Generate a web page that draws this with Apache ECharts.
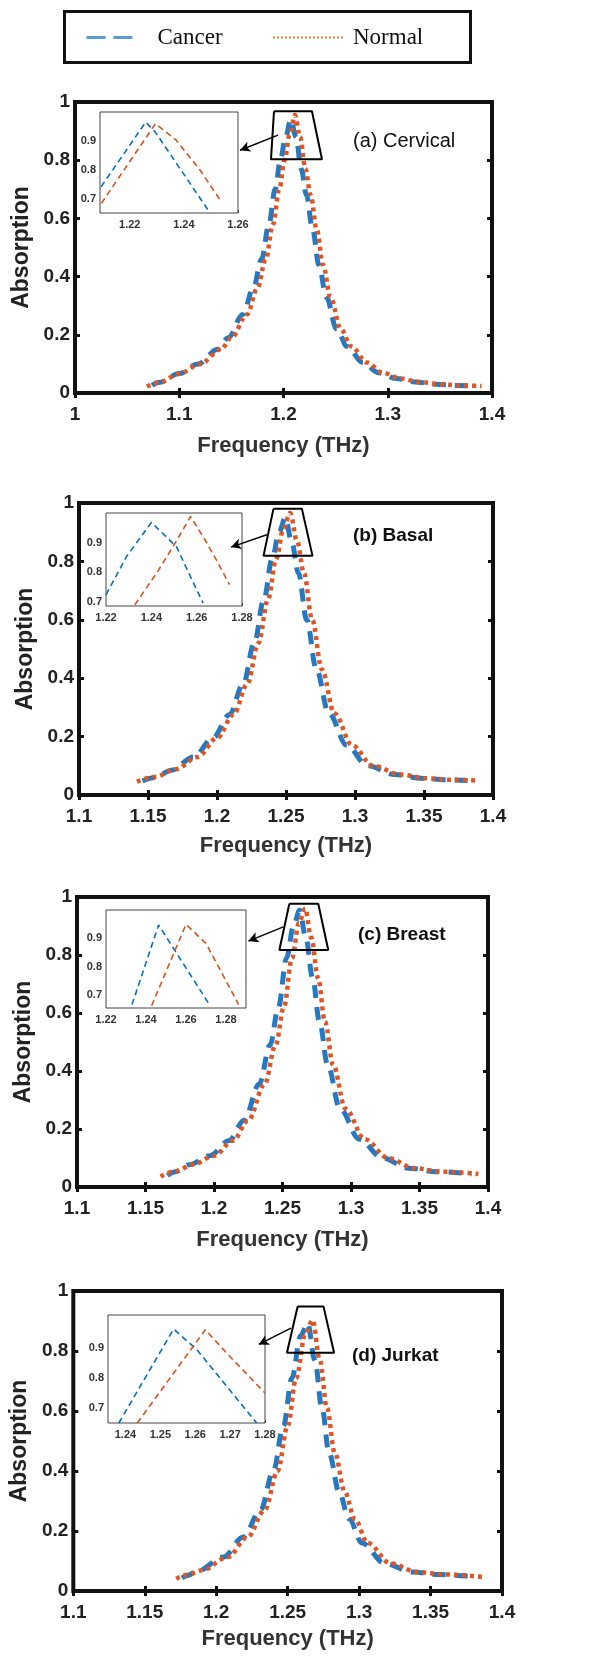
<!DOCTYPE html>
<html><head><meta charset="utf-8">
<script src="https://cdn.jsdelivr.net/npm/echarts@6/dist/echarts.min.js"></script>
<style>html,body{margin:0;padding:0;background:#fff}#c{width:600px;height:1660px}</style>
</head><body><div id="c"></div>
<script>
// ---------- data ----------
const panelLabels = ['(a) Cervical', '(b) Basal', '(c) Breast', '(d) Jurkat'];
const seriesNames = ['Cancer', 'Normal'];
const xMin = [1, 1.1, 1.1, 1.1];
const xMax = [1.4, 1.4, 1.4, 1.4];
const xStep = [0.1, 0.05, 0.05, 0.05];
const yTicks = [0, 0.2, 0.4, 0.6, 0.8, 1];

// (a) Cervical
const freqCancerA = [1.074, 1.080, 1.100, 1.118, 1.137, 1.147, 1.161, 1.171, 1.179, 1.186, 1.192, 1.197, 1.202, 1.207, 1.212, 1.217, 1.222, 1.228, 1.234, 1.241, 1.251, 1.261, 1.276, 1.291, 1.308, 1.326, 1.346, 1.366, 1.385];
const absCancerA  = [0.026, 0.036, 0.067, 0.100, 0.150, 0.190, 0.270, 0.360, 0.460, 0.580, 0.700, 0.800, 0.880, 0.940, 0.880, 0.770, 0.680, 0.560, 0.440, 0.330, 0.220, 0.160, 0.105, 0.070, 0.050, 0.038, 0.030, 0.026, 0.024];
const freqNormalA = [1.069, 1.080, 1.100, 1.120, 1.140, 1.150, 1.165, 1.175, 1.183, 1.190, 1.196, 1.201, 1.206, 1.211, 1.216, 1.221, 1.226, 1.232, 1.238, 1.245, 1.255, 1.265, 1.280, 1.295, 1.312, 1.330, 1.350, 1.370, 1.390];
const absNormalA  = [0.022, 0.035, 0.066, 0.100, 0.150, 0.190, 0.270, 0.360, 0.460, 0.580, 0.700, 0.800, 0.890, 0.955, 0.880, 0.770, 0.680, 0.560, 0.440, 0.330, 0.220, 0.160, 0.105, 0.070, 0.050, 0.038, 0.030, 0.026, 0.024];
// (b) Basal
const freqCancerB = [1.146, 1.155, 1.167, 1.183, 1.197, 1.209, 1.219, 1.227, 1.234, 1.240, 1.245, 1.2495, 1.254, 1.259, 1.265, 1.272, 1.281, 1.294, 1.309, 1.329, 1.348, 1.366, 1.385];
const absCancerB  = [0.048, 0.060, 0.085, 0.130, 0.195, 0.275, 0.380, 0.520, 0.670, 0.810, 0.900, 0.949, 0.870, 0.760, 0.600, 0.430, 0.280, 0.170, 0.100, 0.070, 0.057, 0.052, 0.049];
const freqNormalB = [1.142, 1.155, 1.170, 1.186, 1.200, 1.212, 1.222, 1.230, 1.237, 1.243, 1.248, 1.253, 1.258, 1.263, 1.269, 1.276, 1.285, 1.298, 1.313, 1.333, 1.352, 1.370, 1.390];
const absNormalB  = [0.046, 0.062, 0.088, 0.130, 0.195, 0.275, 0.380, 0.520, 0.670, 0.810, 0.910, 0.966, 0.870, 0.760, 0.600, 0.430, 0.280, 0.170, 0.100, 0.070, 0.057, 0.052, 0.049];
// (c) Breast
const freqCancerC = [1.166, 1.172, 1.182, 1.197, 1.211, 1.222, 1.233, 1.241, 1.247, 1.253, 1.258, 1.2625, 1.267, 1.272, 1.277, 1.283, 1.292, 1.306, 1.323, 1.342, 1.362, 1.388];
const absCancerC  = [0.040, 0.053, 0.077, 0.108, 0.160, 0.230, 0.355, 0.490, 0.620, 0.790, 0.900, 0.954, 0.860, 0.720, 0.570, 0.420, 0.270, 0.165, 0.100, 0.065, 0.053, 0.045];
const freqNormalC = [1.161, 1.172, 1.185, 1.200, 1.214, 1.225, 1.237, 1.245, 1.251, 1.257, 1.262, 1.2665, 1.271, 1.276, 1.281, 1.287, 1.296, 1.310, 1.327, 1.346, 1.366, 1.393];
const absNormalC  = [0.036, 0.055, 0.078, 0.108, 0.160, 0.230, 0.355, 0.490, 0.620, 0.790, 0.910, 0.960, 0.860, 0.720, 0.570, 0.420, 0.270, 0.165, 0.100, 0.065, 0.053, 0.045];
// (d) Jurkat
const freqCancerD = [1.176, 1.180, 1.187, 1.205, 1.219, 1.231, 1.240, 1.247, 1.253, 1.259, 1.264, 1.269, 1.274, 1.279, 1.286, 1.293, 1.302, 1.318, 1.337, 1.356, 1.382];
const absCancerD  = [0.044, 0.052, 0.067, 0.113, 0.180, 0.270, 0.400, 0.550, 0.710, 0.850, 0.892, 0.770, 0.610, 0.460, 0.330, 0.240, 0.160, 0.092, 0.063, 0.055, 0.047];
const freqNormalD = [1.172, 1.180, 1.190, 1.208, 1.222, 1.234, 1.243, 1.250, 1.256, 1.2625, 1.2675, 1.2725, 1.2775, 1.283, 1.290, 1.297, 1.306, 1.322, 1.341, 1.360, 1.386];
const absNormalD  = [0.041, 0.054, 0.069, 0.113, 0.180, 0.270, 0.400, 0.550, 0.710, 0.860, 0.903, 0.770, 0.610, 0.460, 0.330, 0.240, 0.160, 0.092, 0.063, 0.055, 0.047];

// insets (zoomed peak regions)
const insetXMin = [1.209, 1.22, 1.22, 1.235];
const insetXMax = [1.26, 1.28, 1.29, 1.28];
const insetYMin = [0.653, 0.685, 0.653, 0.65];
const insetYMax = [1.0, 1.0, 1.0, 1.01];
const insetXTicksA = [1.22, 1.24, 1.26];
const insetXTicksB = [1.22, 1.24, 1.26, 1.28];
const insetXTicksC = [1.22, 1.24, 1.26, 1.28];
const insetXTicksD = [1.24, 1.25, 1.26, 1.27, 1.28];
const insetYTicks = [0.7, 0.8, 0.9];

const inFreqCancerA = [1.2094, 1.2259, 1.2295, 1.2494];
const inAbsCancerA  = [0.743, 0.9655, 0.93, 0.657];
const inFreqNormalA = [1.2095, 1.2295, 1.237, 1.246, 1.2534];
const inAbsNormalA  = [0.686, 0.960, 0.905, 0.800, 0.698];
const inFreqCancerB = [1.220, 1.2291, 1.240, 1.2511, 1.2555, 1.2628];
const inAbsCancerB  = [0.723, 0.853, 0.968, 0.886, 0.813, 0.695];
const inFreqNormalB = [1.2327, 1.2423, 1.2496, 1.2573, 1.2628, 1.2687, 1.2745];
const inAbsNormalB  = [0.689, 0.796, 0.886, 0.988, 0.920, 0.841, 0.757];
const inFreqCancerC = [1.233, 1.2463, 1.2717];
const inAbsCancerC  = [0.665, 0.947, 0.665];
const inFreqNormalC = [1.2428, 1.260, 1.270, 1.2863];
const inAbsNormalC  = [0.661, 0.949, 0.882, 0.665];
const inFreqCancerD = [1.2381, 1.2538, 1.2605, 1.2776];
const inAbsCancerD  = [0.650, 0.963, 0.894, 0.650];
const inFreqNormalD = [1.2434, 1.2629, 1.269, 1.280];
const inAbsNormalD  = [0.650, 0.961, 0.883, 0.750];

// annotation: zoom trapezoid (data coords of main axes) and arrow
const trapFreq = [[1.1909, 1.2273, 1.2369, 1.1880, 1.1909], [1.2409, 1.2615, 1.2692, 1.2337, 1.2409], [1.2550, 1.2761, 1.2834, 1.2477, 1.2550], [1.2570, 1.2751, 1.2825, 1.2495, 1.2570]];
const trapAbs  = [[0.968, 0.968, 0.803, 0.803, 0.968], [0.980, 0.980, 0.819, 0.819, 0.980], [0.977, 0.977, 0.817, 0.817, 0.977], [0.948, 0.948, 0.794, 0.794, 0.948]];
const arrowFrom = [[1.1947, 0.886], [1.2361, 0.891], [1.2506, 0.897], [1.2523, 0.876]];
const arrowTo   = [[1.1583, 0.834], [1.2102, 0.849], [1.2251, 0.848], [1.2298, 0.822]];

// ---------- build ----------
const mainFreqC = [freqCancerA, freqCancerB, freqCancerC, freqCancerD];
const mainAbsC = [absCancerA, absCancerB, absCancerC, absCancerD];
const mainFreqN = [freqNormalA, freqNormalB, freqNormalC, freqNormalD];
const mainAbsN = [absNormalA, absNormalB, absNormalC, absNormalD];
const inFreqC = [inFreqCancerA, inFreqCancerB, inFreqCancerC, inFreqCancerD];
const inAbsC = [inAbsCancerA, inAbsCancerB, inAbsCancerC, inAbsCancerD];
const inFreqN = [inFreqNormalA, inFreqNormalB, inFreqNormalC, inFreqNormalD];
const inAbsN = [inAbsNormalA, inAbsNormalB, inAbsNormalC, inAbsNormalD];
const inXTicks = [insetXTicksA, insetXTicksB, insetXTicksC, insetXTicksD];
const zip = (xs, ys) => xs.map((x, i) => [x, ys[i]]);

const BLUE = '#2479c2', ORANGE = '#df5524';
const mainGrids = [
  {left: 75, top: 102, width: 417, height: 291},
  {left: 79, top: 503, width: 414, height: 292},
  {left: 77, top: 897, width: 411, height: 290},
  {left: 72, top: 1291, width: 430, height: 300}
];
const insetGrids = [
  {left: 100, top: 112, width: 138, height: 101},
  {left: 106, top: 513, width: 136, height: 93},
  {left: 106, top: 910, width: 140, height: 98},
  {left: 108, top: 1315, width: 157, height: 108}
];
const nameGaps = [42, 40, 42, 37];
const labelPos = [[353, 131], [353, 526], [358, 925], [352, 1346]];

const grid = [], xAxis = [], yAxis = [], series = [], title = [];
const font = 'Liberation Sans, Arial, sans-serif';
for (let p = 0; p < 4; p++) {
  grid.push(Object.assign({show: true, borderColor: '#111', borderWidth: 4, containLabel: false}, mainGrids[p]));
}
for (let p = 0; p < 4; p++) {
  grid.push(Object.assign({show: true, borderColor: '#444', borderWidth: 1, backgroundColor: '#fff', containLabel: false, z: 3}, insetGrids[p]));
}
// main bottom/left axes: index 0-3
for (let p = 0; p < 4; p++) {
  xAxis.push({type: 'value', gridIndex: p, min: xMin[p], max: xMax[p], interval: xStep[p],
    axisLine: {show: false}, splitLine: {show: false},
    axisTick: {show: true, inside: true, length: 5, lineStyle: {color: '#111', width: 3}},
    axisLabel: {fontFamily: font, fontWeight: 'bold', fontSize: 19, color: '#222', margin: 12},
    name: 'Frequency (THz)', nameLocation: 'middle', nameGap: nameGaps[p],
    nameTextStyle: {fontFamily: font, fontWeight: 'bold', fontSize: 22, color: '#333', verticalAlign: 'top'}});
  yAxis.push({type: 'value', gridIndex: p, min: 0, max: 1, interval: 0.2,
    axisLine: {show: false}, splitLine: {show: false},
    axisTick: {show: true, inside: true, length: 5, lineStyle: {color: '#111', width: 3}},
    axisLabel: {fontFamily: font, fontWeight: 'bold', fontSize: 19, color: '#222', margin: 5},
    name: 'Absorption', nameLocation: 'middle', nameGap: 31,
    nameTextStyle: {fontFamily: font, fontWeight: 'bold', fontSize: 23, color: '#222'}});
}
// main top/right tick-only axes: index 4-7
for (let p = 0; p < 4; p++) {
  xAxis.push({type: 'value', gridIndex: p, position: 'top', min: xMin[p], max: xMax[p], interval: xStep[p],
    axisLine: {show: false}, splitLine: {show: false}, axisLabel: {show: false},
    axisTick: {show: true, inside: true, length: 5, lineStyle: {color: '#111', width: 3}}});
  yAxis.push({type: 'value', gridIndex: p, position: 'right', min: 0, max: 1, interval: 0.2,
    axisLine: {show: false}, splitLine: {show: false}, axisLabel: {show: false},
    axisTick: {show: true, inside: true, length: 5, lineStyle: {color: '#111', width: 3}}});
}
// inset axes: index 8-11
for (let p = 0; p < 4; p++) {
  xAxis.push({type: 'value', gridIndex: 4 + p, min: insetXMin[p], max: insetXMax[p],
    axisLine: {show: false}, splitLine: {show: false},
    axisTick: {show: true, inside: true, length: 3, lineStyle: {color: '#444'}, customValues: inXTicks[p]},
    axisLabel: {fontFamily: font, fontWeight: 'bold', fontSize: 11, color: '#333', margin: 6, customValues: inXTicks[p], showMinLabel: true, showMaxLabel: true}});
  yAxis.push({type: 'value', gridIndex: 4 + p, min: insetYMin[p], max: insetYMax[p],
    axisLine: {show: false}, splitLine: {show: false},
    axisTick: {show: true, inside: true, length: 3, lineStyle: {color: '#444'}, customValues: insetYTicks},
    axisLabel: {fontFamily: font, fontWeight: 'bold', fontSize: 11, color: '#333', margin: 4, customValues: insetYTicks}});
}
for (let p = 0; p < 4; p++) {
  series.push({type: 'line', name: 'Cancer', xAxisIndex: p, yAxisIndex: p, data: zip(mainFreqC[p], mainAbsC[p]),
    symbol: 'none', smooth: 0.35, smoothMonotone: 'x', z: 3,
    lineStyle: {color: BLUE, width: 5, type: [13, 9]}, itemStyle: {color: BLUE}});
  series.push({type: 'line', name: 'Normal', xAxisIndex: p, yAxisIndex: p, data: zip(mainFreqN[p], mainAbsN[p]),
    symbol: 'none', smooth: 0.35, smoothMonotone: 'x', z: 4,
    lineStyle: {color: ORANGE, width: 4.5, type: [4, 4]}, itemStyle: {color: ORANGE}});
  series.push({type: 'line', name: 'zoom' + p, xAxisIndex: p, yAxisIndex: p, data: zip(trapFreq[p], trapAbs[p]),
    symbol: 'none', silent: true, z: 5, lineStyle: {color: '#000', width: 2},
    markLine: {silent: true, symbol: ['none', 'arrow'], symbolSize: [8, 10], label: {show: false},
      lineStyle: {color: '#000', width: 1.5, type: 'solid'},
      data: [[{coord: arrowFrom[p]}, {coord: arrowTo[p]}]]}});
  series.push({type: 'line', name: 'Cancer', xAxisIndex: 8 + p, yAxisIndex: 8 + p, data: zip(inFreqC[p], inAbsC[p]),
    symbol: 'none', z: 6, lineStyle: {color: '#0072BD', width: 1.6, type: [6, 4]}});
  series.push({type: 'line', name: 'Normal', xAxisIndex: 8 + p, yAxisIndex: 8 + p, data: zip(inFreqN[p], inAbsN[p]),
    symbol: 'none', z: 6, lineStyle: {color: '#D95319', width: 1.6, type: [6, 4]}});
  title.push({text: panelLabels[p], left: labelPos[p][0], top: labelPos[p][1], padding: 0,
    textStyle: {fontFamily: font, fontSize: p === 0 ? 20 : 19, fontWeight: p === 0 ? 'normal' : 'bold', color: '#111'}});
}

const legendText = {fontFamily: 'Liberation Serif, Times New Roman, serif', fontSize: 23, color: '#111'};
const hiddenSymbol = {color: 'rgba(0,0,0,0)', borderColor: 'rgba(0,0,0,0)', borderWidth: 0, opacity: 0};
const option = {
  animation: false,
  backgroundColor: '#fff',
  title: title,
  legend: [
    {left: 85, top: 26, padding: 0, itemWidth: 46, itemHeight: 14, selectedMode: false,
      textStyle: Object.assign({padding: [0, 0, 0, 20]}, legendText),
      data: [{name: 'Cancer', lineStyle: {color: '#5B9BD5', width: 3, type: [19, 8]}, itemStyle: hiddenSymbol}]},
    {left: 272, top: 26, padding: 0, itemWidth: 70, itemHeight: 14, selectedMode: false,
      textStyle: Object.assign({padding: [0, 0, 0, 5]}, legendText),
      data: [{name: 'Normal', lineStyle: {color: '#ED7D31', width: 2, type: [2, 2]}, itemStyle: hiddenSymbol}]}
  ],
  graphic: [{type: 'rect', left: 62, top: 9, shape: {width: 406, height: 51}, style: {fill: 'none', stroke: '#111', lineWidth: 3}, silent: true}],
  grid: grid, xAxis: xAxis, yAxis: yAxis, series: series
};
const chart = echarts.init(document.getElementById('c'), null, {renderer: 'canvas'});
chart.setOption(option);
</script></body></html>
